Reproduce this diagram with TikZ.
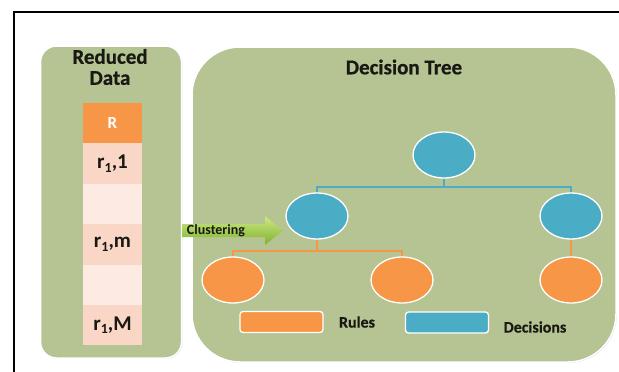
\documentclass[tikz,border=0pt]{standalone}
\usepackage{fontspec}
\setmainfont{Carlito}
\usetikzlibrary{shapes.geometric,shadows}
\definecolor{panelgreen}{RGB}{181,196,146}
\definecolor{dblue}{RGB}{75,172,198}
\definecolor{dorange}{RGB}{247,150,70}
\definecolor{cellA}{RGB}{249,214,198}
\definecolor{cellB}{RGB}{252,234,227}
\definecolor{arrowtop}{RGB}{205,232,130}
\definecolor{arrowbot}{RGB}{128,178,48}
\definecolor{textdark}{RGB}{25,25,20}
\tikzset{
  panel/.style={draw=white, line width=1.5pt, fill=panelgreen, inner sep=0pt,
    drop shadow={shadow xshift=0.8pt, shadow yshift=-0.8pt, opacity=0.3}},
  titletext/.style={font=\bfseries\fontsize{21}{21}\selectfont\addfontfeature{FakeBold=0.6}, text=textdark, align=center},
  cell/.style={rectangle, minimum width=59pt, minimum height=40.4pt, inner sep=0pt,
    font=\bfseries\fontsize{21}{21}\selectfont, text=textdark},
  decnode/.style={ellipse, minimum width=62pt, minimum height=46pt, fill=dblue, draw=white, line width=1.3pt},
  rulenode/.style={ellipse, minimum width=62pt, minimum height=46pt, fill=dorange, draw=white, line width=1.3pt},
  legbox/.style={rectangle, rounded corners=3pt, minimum width=83pt, minimum height=21pt, draw=white, line width=1.3pt},
  legtext/.style={font=\bfseries\fontsize{16}{16}\selectfont\addfontfeature{FakeBold=0.4}, text=textdark},
  blueline/.style={draw=dblue, line width=1.5pt},
  orangeline/.style={draw=dorange, line width=1.5pt},
}
\newcommand{\rsub}[1]{r\raisebox{-0.35ex}{\fontsize{14}{14}\selectfont 1},#1}
\begin{document}
\begin{tikzpicture}[x=1pt,y=-1pt]
\useasboundingbox (0,0) rectangle (619,372);
\fill[white] (0,0) rectangle (619,372);
\draw[line width=2.5pt] (14,372) -- (14,12) -- (619,12);

% panels
\node[panel, rounded corners=16pt, minimum width=141pt, minimum height=312pt] (lpanel) at (111,202) {};
\node[panel, rounded corners=48pt, minimum width=424pt, minimum height=315pt] (rpanel) at (404,204.5) {};

\node[titletext] (ltitle) at (110,67) {Reduced\\Data};
\node[titletext] (rtitle) at (404,67) {Decision Tree};

% data column
\node[cell, fill=dorange, text=white, font=\bfseries\fontsize{17}{17}\selectfont] (cR) at (112.5,123.2) {R};
\node[cell, fill=cellA] (c1) at (112.5,163.6) {\rsub{1}};
\node[cell, fill=cellB] (c2) at (112.5,204) {};
\node[cell, fill=cellA] (c3) at (112.5,244.4) {\rsub{m}};
\node[cell, fill=cellB] (c4) at (112.5,284.8) {};
\node[cell, fill=cellA] (c5) at (112.5,325.2) {\rsub{M}};

% tree
\node[decnode] (root) at (444,155) {};
\node[decnode] (dl) at (317,216) {};
\node[decnode] (dr) at (571,216) {};
\node[rulenode] (r1) at (233,280) {};
\node[rulenode] (r2) at (402,280) {};
\node[rulenode] (r3) at (571,280) {};

\coordinate (bbar) at (444,187);
\coordinate (obar) at (317,251);
\draw[blueline] (root.south) -- (bbar) -| (dl.north);
\draw[blueline] (bbar) -| (dr.north);
\draw[orangeline] (dl.south) -- (obar) -| (r1.north);
\draw[orangeline] (obar) -| (r2.north);
\draw[orangeline] (dr.south) -- (r3.north);

% clustering arrow
\coordinate (atail) at (182,230.5);
\coordinate (atip) at (283,230.5);
\shade[top color=arrowtop, bottom color=arrowbot]
  (atail) ++(0,-6.5) -- (265,224) -- (265,216) -- (atip) -- (265,245) -- (265,237) -- (182,237) -- cycle;
\node[font=\bfseries\fontsize{14}{14}\selectfont, text=textdark] (clust) at (216,230.5) {Clustering};

% legend
\node[legbox, fill=dorange] (lrules) at (281.5,322) {};
\node[legtext] (trules) at (357,322) {Rules};
\node[legbox, fill=dblue] (ldec) at (447,322.5) {};
\node[legtext] (tdec) at (535,327) {Decisions};
\end{tikzpicture}
\end{document}
